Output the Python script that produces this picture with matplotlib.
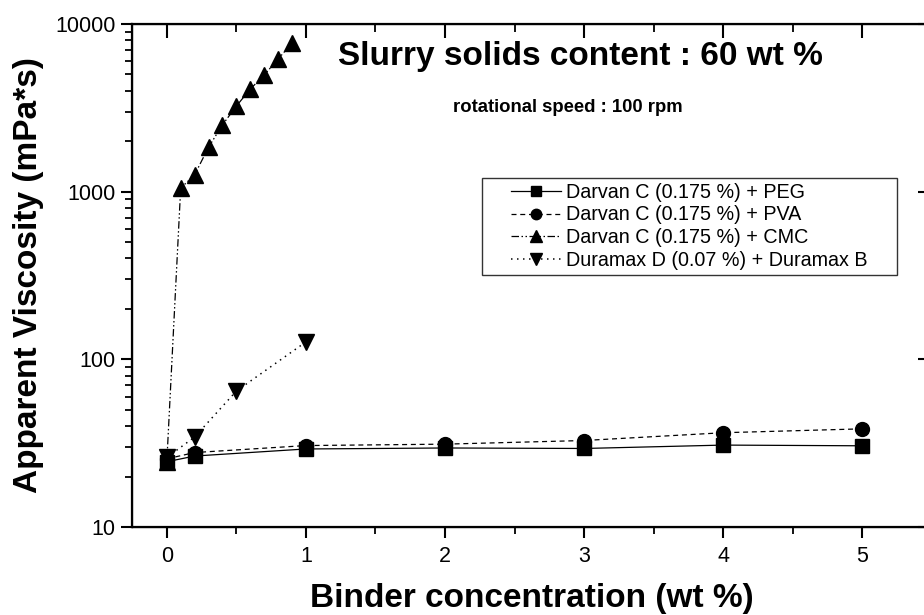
import matplotlib
matplotlib.use("Agg")
import matplotlib.pyplot as plt
from matplotlib.ticker import FixedLocator, NullFormatter, LogLocator
from matplotlib.legend_handler import HandlerLine2D

plt.rcParams['font.family'] = ['Liberation Sans', 'DejaVu Sans']

# Binder concentration (wt %) and apparent viscosity (mPa*s)
x_peg = [0, 0.2, 1, 2, 3, 4, 5]
peg = [24.5, 26.5, 29.2, 29.6, 29.4, 30.8, 30.5]

x_pva = [0, 0.2, 1, 2, 3, 4, 5]
pva = [25.5, 27.8, 30.6, 31.2, 32.8, 36.5, 38.5]

x_cmc = [0, 0.1, 0.2, 0.3, 0.4, 0.5, 0.6, 0.7, 0.8, 0.9]
cmc = [24.3, 1050, 1260, 1840, 2500, 3240, 4090, 4960, 6180, 7690]

x_dur = [0, 0.2, 0.5, 1]
dur = [26.0, 34.4, 64.7, 127]

labels = [
    "Darvan C (0.175 %) + PEG",
    "Darvan C (0.175 %) + PVA",
    "Darvan C (0.175 %) + CMC",
    "Duramax D (0.07 %) + Duramax B",
]

x_ticks = [0, 1, 2, 3, 4, 5]
x_minor = [0.5, 1.5, 2.5, 3.5, 4.5, 5.5]
y_ticks = [10, 100, 1000, 10000]
y_ticklabels = ["10", "100", "1000", "10000"]


class IndentedLineHandler(HandlerLine2D):
    """Legend sample drawn only over the right part of the handle box."""

    def __init__(self, indent=0.32, **kw):
        super().__init__(**kw)
        self.indent = indent

    def create_artists(self, legend, orig_handle, xdescent, ydescent,
                       width, height, fontsize, trans):
        off = self.indent * width
        return super().create_artists(legend, orig_handle, xdescent - off,
                                      ydescent, width - off, height,
                                      fontsize, trans)


fig = plt.figure(figsize=(9.24, 6.15), dpi=100)
ax = fig.add_axes([132 / 924, 1 - 527 / 615, 800 / 924, 503 / 615])

ms = 10
lw = 0.9
ax.plot(x_peg, peg, color="black", lw=lw, ls="-", marker="s", ms=ms * 0.95, label=labels[0])
ax.plot(x_pva, pva, color="black", lw=lw, ls=(0, (4, 3)), marker="o", ms=ms, label=labels[1])
ax.plot(x_cmc, cmc, color="black", lw=lw, ls=(0, (6, 2, 1.2, 2, 1.2, 2)), marker="^", ms=ms * 1.1, label=labels[2])
ax.plot(x_dur, dur, color="black", lw=lw * 1.2, ls=(0, (1, 3)), marker="v", ms=ms * 1.1, label=labels[3])

ax.set_yscale("log")
ax.set_xlim(-0.25, 5.5)
ax.set_ylim(10, 10000)

ax.xaxis.set_major_locator(FixedLocator(x_ticks))
ax.xaxis.set_minor_locator(FixedLocator(x_minor))
ax.set_xticklabels([str(t) for t in x_ticks])
ax.yaxis.set_major_locator(FixedLocator(y_ticks))
ax.set_yticklabels(y_ticklabels)
ax.yaxis.set_minor_locator(LogLocator(base=10, subs=range(2, 10)))
ax.yaxis.set_minor_formatter(NullFormatter())

ax.tick_params(axis="both", which="major", direction="out", length=8, width=1.5,
               labelsize=15.5)
ax.tick_params(axis="both", which="minor", direction="out", length=5, width=1.3)
ax.tick_params(axis="x", which="major", pad=6)
ax.tick_params(axis="y", which="major", pad=4)
for s in ax.spines.values():
    s.set_linewidth(1.6)

# mirrored ticks on top and right, pointing inward
axt = ax.twiny()
axt.set_xlim(ax.get_xlim())
axt.xaxis.set_major_locator(FixedLocator(x_ticks))
axt.xaxis.set_minor_locator(FixedLocator(x_minor))
axt.tick_params(axis="x", which="major", direction="in", length=10, width=1.5, labeltop=False)
axt.tick_params(axis="x", which="minor", direction="in", length=6, width=1.3)
axr = ax.twinx()
axr.set_yscale("log")
axr.set_ylim(ax.get_ylim())
axr.yaxis.set_major_locator(FixedLocator(y_ticks))
axr.yaxis.set_minor_locator(LogLocator(base=10, subs=range(2, 10)))
axr.tick_params(axis="y", which="major", direction="in", length=10, width=1.5, labelright=False)
axr.tick_params(axis="y", which="minor", direction="in", length=5, width=1.3)
axr.yaxis.set_minor_formatter(NullFormatter())

ax.set_xlabel("Binder concentration (wt %)", fontsize=24, fontweight="bold", labelpad=11)
ax.set_ylabel("Apparent Viscosity (mPa*s)", fontsize=24, fontweight="bold", labelpad=8)

fig.text(580 / 924, 1 - 57 / 615, "Slurry solids content : 60 wt %", fontsize=24,
         fontweight="bold", ha="center", va="center")
fig.text(568 / 924, 1 - 107 / 615, "rotational speed : 100 rpm", fontsize=13.3,
         fontweight="bold", ha="center", va="center")

# legend box spanning x = 482..897 px, top at y = 178 px
handler = IndentedLineHandler(indent=0.32)
leg = ax.legend(loc="upper left",
                bbox_to_anchor=(350 / 800, (527 - 178) / 503 - 96 / 503, 415 / 800, 96 / 503),
                mode="expand", borderaxespad=0, fontsize=14.2, frameon=True,
                fancybox=False, edgecolor="black", numpoints=1, markerscale=0.75,
                handlelength=3.75, handletextpad=0.25, labelspacing=0.18,
                borderpad=0.25,
                handler_map={ln: handler for ln in ax.get_lines()})
leg.get_frame().set_linewidth(1.0)
ax.set_zorder(axr.get_zorder() + 1)
ax.patch.set_visible(False)

fig.savefig("out.png", dpi=100)
